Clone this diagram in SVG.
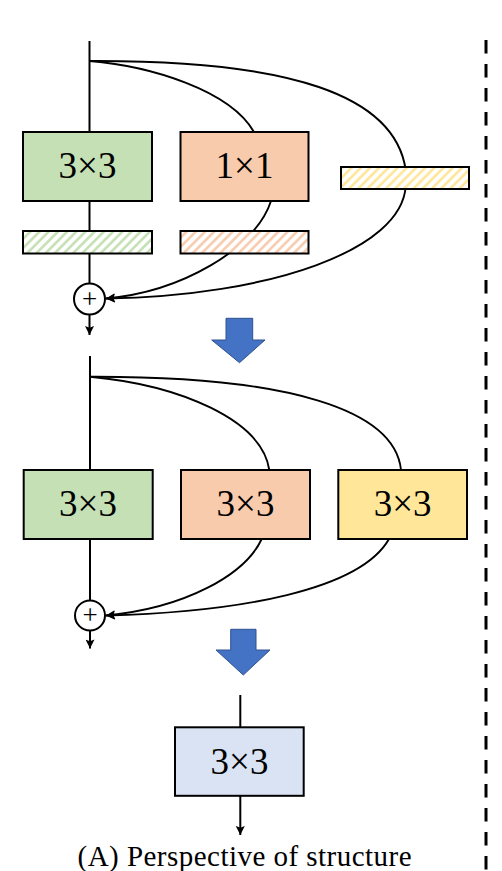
<svg xmlns="http://www.w3.org/2000/svg" width="502" height="871" viewBox="0 0 502 871">
<style>
.box{stroke:#000;stroke-width:2}
.lbl{font-family:"Liberation Serif","Times New Roman",serif;font-size:37px;text-anchor:middle;fill:#000}
.ln{fill:none;stroke:#000;stroke-width:2}
.cv{fill:none;stroke:#000;stroke-width:1.9}
.sum{fill:#fff;stroke:#000;stroke-width:2}
.plus{font-family:"Liberation Serif","Times New Roman",serif;font-size:27px;text-anchor:middle;fill:#000}
.big{fill:#4472C4;stroke:#2F528F;stroke-width:1}
</style>
<defs>
<marker id="ah" viewBox="0 0 10 10" refX="10" refY="5" markerWidth="10" markerHeight="9" markerUnits="userSpaceOnUse" orient="auto">
<path d="M0,0 L10,5 L0,10 L2,5 z" fill="#000"/>
</marker>
<pattern id="hg" width="6.5" height="6.5" patternUnits="userSpaceOnUse" patternTransform="rotate(45)"><rect width="6.5" height="6.5" fill="#fff"/><line x1="3.25" y1="0" x2="3.25" y2="6.5" stroke="#c5e0b4" stroke-width="2.6"/></pattern>
<pattern id="ho" width="6.5" height="6.5" patternUnits="userSpaceOnUse" patternTransform="rotate(45)"><rect width="6.5" height="6.5" fill="#fff"/><line x1="3.25" y1="0" x2="3.25" y2="6.5" stroke="#f8cbad" stroke-width="2.6"/></pattern>
<pattern id="hy" width="6.5" height="6.5" patternUnits="userSpaceOnUse" patternTransform="rotate(45)"><rect width="6.5" height="6.5" fill="#fff"/><line x1="3.25" y1="0" x2="3.25" y2="6.5" stroke="#ffe699" stroke-width="2.6"/></pattern>
</defs>

<g id="connectors">
<path class="ln" d="M89.5,41 V132"/>
<path class="ln" d="M89.5,201 V231"/>
<path class="ln" d="M89.5,254 V283.5"/>
<path class="ln" d="M89.5,314.5 V335" marker-end="url(#ah)"/>
<path class="cv" d="M89.5,61 C150,66 230,90 254,132"/>
<path class="cv" d="M271,201 C255,250 180,292 106,298.5" marker-end="url(#ah)"/>
<path class="cv" d="M89.5,61 C290,60 395,95 405.7,170"/>
<path class="cv" d="M405.7,186 C402,250 270,296 106,298.5" marker-end="url(#ah)"/>
<path class="ln" d="M90,356 V470"/>
<path class="ln" d="M90,539 V600.5"/>
<path class="ln" d="M90,630.5 V648.5" marker-end="url(#ah)"/>
<path class="cv" d="M90,376.7 C180,385 262,420 269.3,470"/>
<path class="cv" d="M90,376.7 C290,376 395,410 401,470"/>
<path class="cv" d="M261.7,539 C245,575 185,608 106,615.5" marker-end="url(#ah)"/>
<path class="cv" d="M389,539 C360,590 240,612 106,615.5" marker-end="url(#ah)"/>
<path class="ln" d="M240.3,695 V727"/>
<path class="ln" d="M240.3,796 V835" marker-end="url(#ah)"/>
</g>

<g id="top-conv3x3"><rect class="box" x="23" y="132" width="129" height="69" fill="#c5e0b4"/><text class="lbl" x="87.5" y="178">3×3</text></g>
<g id="top-conv1x1"><rect class="box" x="180.5" y="132" width="128" height="69" fill="#f8cbad"/><text class="lbl" x="244.5" y="178">1×1</text></g>
<g id="top-bn-yellow"><rect class="box" x="341" y="167" width="128" height="22" fill="url(#hy)"/></g>
<g id="top-bn-green"><rect class="box" x="23" y="231" width="129" height="22.5" fill="url(#hg)"/></g>
<g id="top-bn-orange"><rect class="box" x="180.5" y="231" width="128" height="22.5" fill="url(#ho)"/></g>
<g id="top-sum"><circle class="sum" cx="89.5" cy="299" r="15.5"/><text class="plus" x="89.5" y="307.5">+</text></g>

<g id="arrow1"><polygon class="big" points="226,318.3 252.7,318.3 252.7,340 265,340 239.5,362.7 211.7,340 226,340"/></g>

<g id="mid-conv-green"><rect class="box" x="23.7" y="470" width="129" height="69" fill="#c5e0b4"/><text class="lbl" x="88" y="516">3×3</text></g>
<g id="mid-conv-orange"><rect class="box" x="181" y="470" width="129" height="69" fill="#f8cbad"/><text class="lbl" x="245.5" y="516">3×3</text></g>
<g id="mid-conv-yellow"><rect class="box" x="338.3" y="470" width="128.7" height="69" fill="#ffe699"/><text class="lbl" x="402.7" y="516">3×3</text></g>
<g id="mid-sum"><circle class="sum" cx="90" cy="615.5" r="15"/><text class="plus" x="90" y="624">+</text></g>

<g id="arrow2"><polygon class="big" points="230.7,629.3 256,629.3 256,650 270,650 243.3,675 216,650 230.7,650"/></g>

<g id="final-conv"><rect class="box" x="175" y="727.3" width="128.7" height="68.5" fill="#dae3f3"/><text class="lbl" x="239.5" y="774">3×3</text></g>

<g id="divider"><line x1="486" y1="40" x2="486" y2="871" stroke="#000" stroke-width="3" stroke-dasharray="13.5 10.5"/></g>

<g id="caption"><text x="244.5" y="865.7" font-family="'Liberation Serif','Times New Roman',serif" font-size="29" text-anchor="middle" textLength="334" lengthAdjust="spacing">(A) Perspective of structure</text></g>
</svg>
